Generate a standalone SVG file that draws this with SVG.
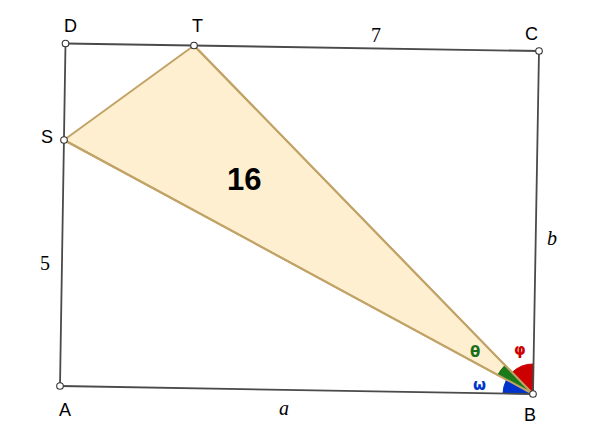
<svg xmlns="http://www.w3.org/2000/svg" width="595" height="447" viewBox="0 0 595 447">
<style>
.edge{stroke:#4a4a4a;stroke-width:1.8;fill:none;stroke-linecap:round}
.tri{fill:#fdefd0;stroke:#c2a367;stroke-width:2;stroke-linejoin:round}
.pt{fill:#fff;stroke:#333;stroke-width:1.1}
.lbl{font-family:"Liberation Sans",Arial,sans-serif;font-size:18px;fill:#000}
.num{font-family:"Liberation Serif","Times New Roman",serif;font-size:20px;fill:#000}
.var{font-family:"Liberation Serif","Times New Roman",serif;font-size:20px;font-style:italic;fill:#000}
.ang{font-family:"DejaVu Sans","Liberation Sans",sans-serif;font-size:15px;font-weight:bold}
</style>
<rect width="595" height="447" fill="#fff"/>
<g id="triangle">
<polygon class="tri" points="64,140 194,45.5 533,394"/>
</g>
<g id="angles">
<path d="M533,394 L503,393.49 A30,30 0 0 1 506.62,379.71 Z" fill="#0033cc" stroke="#0033cc" stroke-width="1"/>
<path d="M533,394 L497.83,374.95 A40,40 0 0 1 505.09,365.35 Z" fill="#1a7a1a" stroke="#116611" stroke-width="1"/>
<path d="M533,394 L512.07,372.51 A30,30 0 0 1 533.52,364 Z" fill="#cc0000" stroke="#cc0000" stroke-width="1"/>
<line x1="64" y1="140" x2="533" y2="394" stroke="#c2a367" stroke-width="2"/>
<line x1="194" y1="45.5" x2="533" y2="394" stroke="#c2a367" stroke-width="2"/>
</g>
<g id="connectors">
<line class="edge" x1="60" y1="386" x2="533" y2="394"/>
<line class="edge" x1="533" y1="394" x2="539" y2="51"/>
<line class="edge" x1="539" y1="51" x2="65.5" y2="43.5"/>
<line class="edge" x1="65.5" y1="43.5" x2="60" y2="386"/>
</g>
<g id="A"><circle class="pt" cx="60" cy="386" r="3.3"/><text class="lbl" x="59" y="416">A</text></g>
<g id="B"><circle class="pt" cx="533" cy="394" r="3.3"/><text class="lbl" x="524" y="421">B</text></g>
<g id="C"><circle class="pt" cx="539" cy="51" r="3.3"/><text class="lbl" x="525" y="40">C</text></g>
<g id="D"><circle class="pt" cx="65.5" cy="43.5" r="3.3"/><text class="lbl" x="64" y="32">D</text></g>
<g id="T"><circle class="pt" cx="194" cy="45.5" r="3.3"/><text class="lbl" x="192" y="32">T</text></g>
<g id="S"><circle class="pt" cx="64" cy="140" r="3.3"/><text class="lbl" x="41" y="143">S</text></g>
<g id="labels">
<text class="num" x="371" y="42">7</text>
<text class="num" x="40" y="270">5</text>
<text class="var" x="279" y="415">a</text>
<text class="var" x="547" y="245">b</text>
<text x="227" y="190" font-family="'Liberation Sans',Arial,sans-serif" font-size="31" font-weight="bold" fill="#000">16</text>
<text class="ang" x="470" y="357" fill="#1a6e1a">θ</text>
<text class="ang" x="514" y="355" fill="#cc0000">φ</text>
<text class="ang" x="473" y="390" fill="#0033cc">ω</text>
</g>
</svg>
